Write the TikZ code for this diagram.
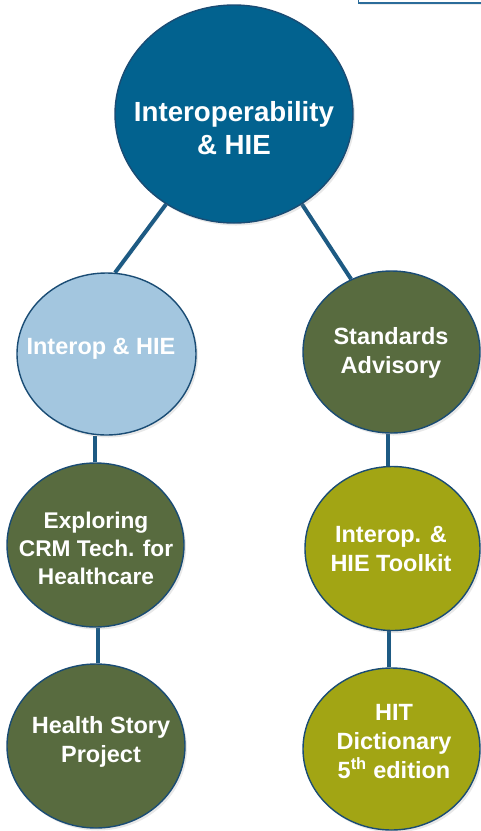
\documentclass[tikz,border=0pt]{standalone}
\usepackage{fontspec}
\setmainfont{Liberation Sans}
\usetikzlibrary{shapes.geometric,backgrounds,shadows}
\definecolor{topblue}{HTML}{02628F}
\definecolor{lightblue}{HTML}{A3C6DF}
\definecolor{darkgreen}{HTML}{586B3F}
\definecolor{olive}{HTML}{A2A514}
\definecolor{rimblue}{HTML}{1A4C74}
\definecolor{linkblue}{HTML}{1D5A83}
\definecolor{boxblue}{HTML}{2B6C9A}
\tikzset{
  bubble/.style={ellipse, draw=rimblue, line width=1.4pt, inner sep=0pt,
    drop shadow={opacity=0.18, shadow xshift=2pt, shadow yshift=-2.5pt}},
  bubtext/.style={text=white, align=center, inner sep=0pt,
    font=\bfseries\fontsize{23.5}{29}\selectfont},
  smalltext/.style={text=white, align=center, inner sep=0pt,
    font=\bfseries\fontsize{22.7}{28}\selectfont},
  toptext/.style={text=white, align=center, inner sep=0pt,
    font=\bfseries\fontsize{27.7}{33}\selectfont},
  link/.style={draw=linkblue, line width=4pt,
    drop shadow={opacity=0.15, shadow xshift=2pt, shadow yshift=-2pt}}
}
\begin{document}
\begin{tikzpicture}[x=1pt,y=-1pt]
\useasboundingbox (0,0) rectangle (481,831);
% partial box at the top right
\node[draw=boxblue, line width=1.5pt, fill=white, minimum width=140pt, minimum height=20pt,
  inner sep=0pt, anchor=south west,
  drop shadow={opacity=0.15, shadow xshift=1.5pt, shadow yshift=-2.5pt}] (corner) at (357.5,3.5) {};
% bubbles
\node[bubble, fill=topblue, minimum width=238pt, minimum height=218pt] (top) at (234,114) {};
\node[toptext] (toptxt) at (234,128) {Interoperability\\\& HIE};
\node[bubble, fill=lightblue, minimum width=179pt, minimum height=162pt] (left) at (106.5,354) {};
\node[bubtext] (lefttxt) at (101,349) {Interop \& HIE};
\node[bubble, fill=darkgreen, minimum width=177pt, minimum height=162pt] (stand) at (391.5,352) {};
\node[bubtext] (standtxt) at (391,353) {Standards\\Advisory};
\node[bubble, fill=darkgreen, minimum width=177pt, minimum height=164pt] (crm) at (95.5,545) {};
\node[smalltext] (crmtxt) at (96,548) {Exploring\\CRM Tech. for\\Healthcare};
\node[bubble, fill=olive, minimum width=175pt, minimum height=164pt] (kit) at (392.5,548.5) {};
\node[bubtext] (kittxt) at (391,549) {Interop. \&\\HIE Toolkit};
\node[bubble, fill=darkgreen, minimum width=178pt, minimum height=164pt] (story) at (96,746) {};
\node[bubtext] (storytxt) at (101,742) {Health Story\\Project};
\node[bubble, fill=olive, minimum width=177pt, minimum height=162pt] (dict) at (391.5,749) {};
\node[bubtext] (dicttxt) at (394,742) {HIT\\Dictionary\\5\textsuperscript{th} edition};
% connectors behind the bubbles
\begin{scope}[on background layer]
  \draw[link] (top.233) -- (left.84);
  \draw[link] (top.307) -- (stand.119);
  \draw[link] ([xshift=-0.5pt]crm.north) -- ([xshift=-0.5pt]crm.north |- left.south);
  \draw[link] ([xshift=-4pt]stand.south) -- ([xshift=-4pt]stand.south |- kit.north);
  \draw[link] ([xshift=1.5pt]story.north) -- ([xshift=1.5pt]story.north |- crm.south);
  \draw[link] ([xshift=-2.5pt]dict.north) -- ([xshift=-2.5pt]dict.north |- kit.south);
\end{scope}
\end{tikzpicture}
\end{document}
